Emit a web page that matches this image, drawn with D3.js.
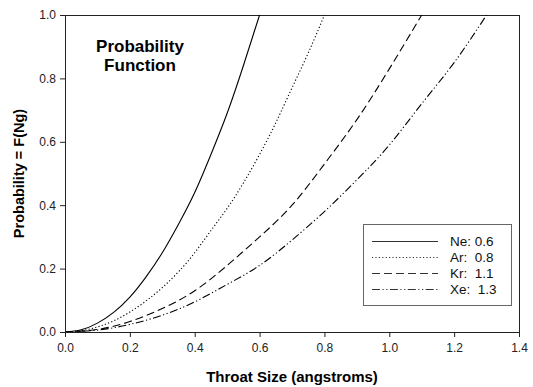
<!DOCTYPE html>
<html>
<head>
<meta charset="utf-8">
<script src="https://cdn.jsdelivr.net/npm/d3@7"></script>
<style>
  body { margin: 0; background: #fff; }
  text { font-family: "Liberation Sans", Arial, sans-serif; }
</style>
</head>
<body>
<div id="chart-area"></div>
<script>
// values
var neX = [0, 0.05, 0.1, 0.15, 0.2, 0.25, 0.3, 0.35, 0.4, 0.45, 0.5, 0.55, 0.6]
var neY = [0, 0.007, 0.028, 0.062, 0.11, 0.174, 0.25, 0.34, 0.44, 0.56, 0.69, 0.84, 1.0]

var arX = [0, 0.05, 0.1, 0.15, 0.2, 0.25, 0.3, 0.35, 0.4, 0.45, 0.5, 0.55, 0.6, 0.65, 0.7, 0.75, 0.8]
var arY = [0, 0.004, 0.016, 0.035, 0.063, 0.098, 0.14, 0.19, 0.25, 0.32, 0.39, 0.47, 0.56, 0.66, 0.77, 0.88, 1.0]

var krX = [0, 0.1, 0.2, 0.3, 0.4, 0.5, 0.6, 0.7, 0.8, 0.9, 1.0, 1.1]
var krY = [0, 0.008, 0.033, 0.074, 0.13, 0.21, 0.30, 0.40, 0.53, 0.67, 0.83, 1.0]

var xeX = [0, 0.1, 0.2, 0.3, 0.4, 0.5, 0.6, 0.7, 0.8, 0.9, 1.0, 1.1, 1.2, 1.3]
var xeY = [0, 0.006, 0.024, 0.053, 0.095, 0.15, 0.21, 0.29, 0.38, 0.48, 0.59, 0.72, 0.85, 1.0]

var seriesNames = ["Ne: 0.6", "Ar:  0.8", "Kr:  1.1", "Xe:  1.3"]
var xTicks = [0, 0.2, 0.4, 0.6, 0.8, 1.0, 1.2, 1.4]
var yTicks = [0, 0.2, 0.4, 0.6, 0.8, 1.0]

function init() {
    var svgWidth = 533
    var svgHeight = 387

    //plot box
    var margin = { top: 15, right: 14, bottom: 55, left: 65 }
    var chartWidth = svgWidth - margin.left - margin.right
    var chartHeight = svgHeight - margin.top - margin.bottom

    var svg = d3.select("#chart-area")
        .append("svg")
        .attr("width", svgWidth)
        .attr("height", svgHeight)

    var chartGroup = svg.append("g")
        .attr("transform", "translate(" + margin.left + "," + margin.top + ")")

    var xScale = d3.scaleLinear().domain([0, 1.4]).range([0, chartWidth])
    var yScale = d3.scaleLinear().domain([0, 1.0]).range([chartHeight, 0])

    var series = [
        { name: seriesNames[0], xs: neX, ys: neY, dash: null },
        { name: seriesNames[1], xs: arX, ys: arY, dash: "1.2,2.2" },
        { name: seriesNames[2], xs: krX, ys: krY, dash: "8,4" },
        { name: seriesNames[3], xs: xeX, ys: xeY, dash: "8,2.5,1.2,2.5,1.2,2.5" }
    ]

    // frame (top and right sides)
    chartGroup.append("rect")
        .attr("x", 0.5)
        .attr("y", 0.5)
        .attr("width", chartWidth)
        .attr("height", chartHeight)
        .attr("fill", "none")
        .attr("stroke", "#222")
        .attr("stroke-width", 1)

    var line = d3.line()
        .x(d => xScale(d[0]))
        .y(d => yScale(d[1]))
        .curve(d3.curveNatural)

    series.forEach(s => {
        var pts = s.xs.map((x, i) => [x, s.ys[i]])
        chartGroup.append("path")
            .datum(pts)
            .attr("d", line)
            .attr("fill", "none")
            .attr("stroke", "#000")
            .attr("stroke-width", 1.1)
            .attr("stroke-dasharray", s.dash)
    })

    var leftAxis = d3.axisLeft(yScale)
        .tickValues(yTicks)
        .tickFormat(d3.format(".1f"))
        .tickSize(5)
        .tickPadding(4)
    var botAxis = d3.axisBottom(xScale)
        .tickValues(xTicks)
        .tickFormat(d3.format(".1f"))
        .tickSize(5)
        .tickPadding(6)

    var yAxisG = chartGroup.append("g").call(leftAxis)
    var xAxisG = chartGroup.append("g")
        .attr("transform", "translate(0," + chartHeight + ")")
        .call(botAxis)

    ;[yAxisG, xAxisG].forEach(g => {
        g.selectAll("text")
            .attr("font-family", "Liberation Sans, Arial, sans-serif")
            .attr("font-size", "12px")
            .attr("fill", "#222")
        g.selectAll("line").attr("stroke", "#222")
        g.select(".domain").attr("stroke", "#222")
    })

    // axis titles
    svg.append("text")
        .attr("x", margin.left + chartWidth / 2)
        .attr("y", 382)
        .attr("text-anchor", "middle")
        .attr("font-size", "15px")
        .attr("font-weight", "bold")
        .text("Throat Size (angstroms)")

    svg.append("text")
        .attr("transform", "translate(24," + (margin.top + chartHeight / 2) + ") rotate(-90)")
        .attr("text-anchor", "middle")
        .attr("font-size", "14.5px")
        .attr("font-weight", "bold")
        .text("Probability = F(Ng)")

    // in-plot title
    svg.append("text")
        .attr("x", 140)
        .attr("y", 52)
        .attr("text-anchor", "middle")
        .attr("font-size", "17px")
        .attr("font-weight", "bold")
        .text("Probability")
    svg.append("text")
        .attr("x", 140)
        .attr("y", 71)
        .attr("text-anchor", "middle")
        .attr("font-size", "17px")
        .attr("font-weight", "bold")
        .text("Function")

    // legend
    var legend = svg.append("g")
    legend.append("rect")
        .attr("x", 363.5)
        .attr("y", 224.5)
        .attr("width", 148)
        .attr("height", 81)
        .attr("fill", "#fff")
        .attr("stroke", "#666")
        .attr("stroke-width", 1)

    series.forEach((s, i) => {
        var yy = 241.5 + i * 16
        legend.append("line")
            .attr("x1", 372)
            .attr("x2", 438)
            .attr("y1", yy)
            .attr("y2", yy)
            .attr("stroke", "#333")
            .attr("stroke-width", 1)
            .attr("stroke-dasharray", s.dash)
        legend.append("text")
            .attr("x", 450)
            .attr("y", yy + 4.5)
            .attr("font-size", "13.5px")
            .attr("fill", "#111")
            .style("white-space", "pre")
            .text(s.name)
    })
}

window.addEventListener('load', init, false)
</script>
</body>
</html>
